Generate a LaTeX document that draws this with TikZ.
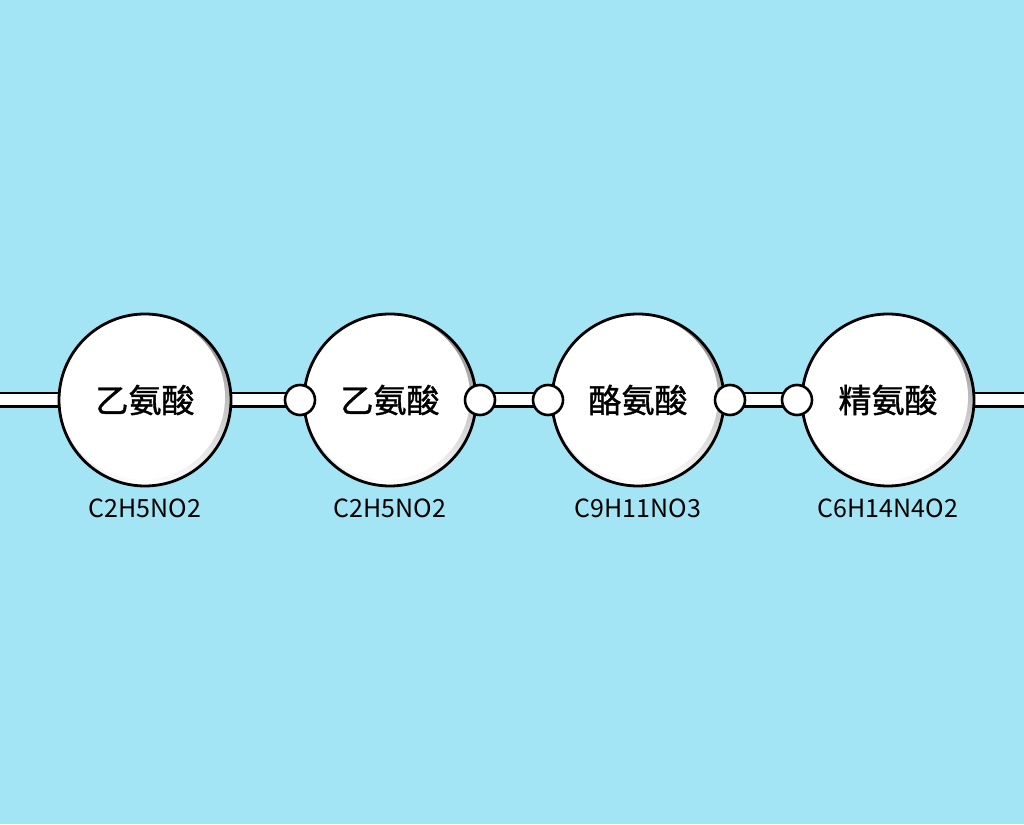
\documentclass[tikz,border=0pt]{standalone}
\usepackage{fontspec}
\setmainfont{Noto Sans CJK SC}
\newfontfamily\cjkbold[FakeBold=1.2]{Noto Sans CJK SC}
\definecolor{bgblue}{HTML}{A3E4F5}
\definecolor{shade}{HTML}{D8D8D8}
\tikzset{
  acid/.style={circle,draw=black,line width=2.8pt,fill=white,minimum size=172pt,inner sep=0pt,font=\cjkbold\fontsize{33}{33}\selectfont},
  joint/.style={circle,draw=black,line width=2.6pt,fill=white,minimum size=30pt,inner sep=0pt},
  bond/.style={draw=black,line width=2.2pt,double=white,double distance=11pt},
  formula/.style={font=\fontsize{25}{25}\selectfont},
}
\begin{document}
\begin{tikzpicture}[x=1pt,y=1pt]
  \fill[bgblue] (0,0) rectangle (1024,824);
  \useasboundingbox (0,0) rectangle (1024,824);
  % end points of the chain
  \coordinate (left) at (-5,424);
  \coordinate (right) at (1029,424);
  % bonds first, circles on top
  \foreach \x/\name in {145/a, 390/b, 638/c, 888/d}
    \coordinate (\name0) at (\x,424);
  \foreach \x/\name in {300/j1, 480/j2, 548/j3, 730/j4, 797/j5}
    \coordinate (\name0) at (\x,424);
  \foreach \source/\dest in {left/a0, a0/j10, j20/j30, j40/j50, d0/right}
    \path[bond] (\source) -- (\dest);
  % the amino acids
  \foreach \x/\name/\text/\chem in {145/a/乙氨酸/C2H5NO2, 390/b/乙氨酸/C2H5NO2,
      638/c/酪氨酸/C9H11NO3, 888/d/精氨酸/C6H14N4O2}
  {
    \fill[shade] (\x,424) circle (86);
    \fill[white] (\x-3,427) circle (83);
    \node[acid,fill=none] (\name) at (\x,424) {\text};
    \node[formula] (\name f) at (\x,316) {\chem};
  }
  % small joints
  \foreach \x/\name in {300/j1, 480/j2, 548/j3, 730/j4, 797/j5}
    \node[joint] (\name) at (\x,424) {};
\end{tikzpicture}
\end{document}
